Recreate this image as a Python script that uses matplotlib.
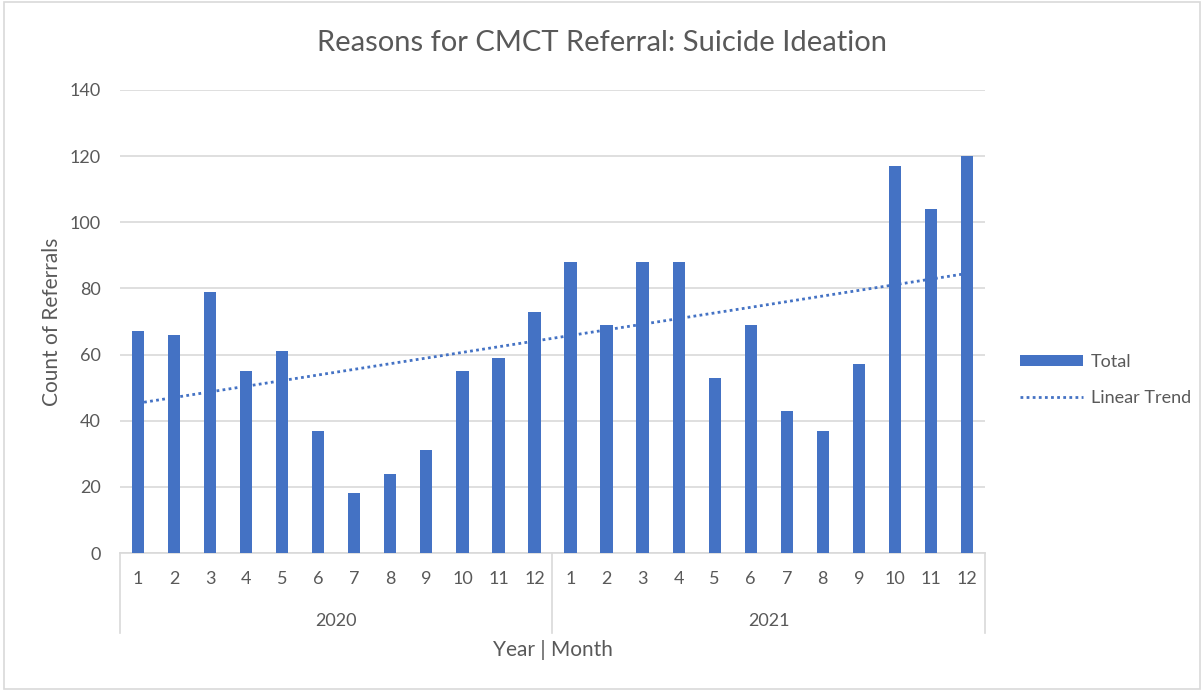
import numpy as np
import matplotlib.pyplot as plt
from matplotlib.patches import Rectangle
from matplotlib.lines import Line2D
from matplotlib.patches import Patch
import matplotlib.transforms as mtransforms

plt.rcParams['font.family'] = ['Lato', 'DejaVu Sans']

years = ["2020", "2021"]
months = [str(m) for m in range(1, 13)]
values_2020 = [67, 66, 79, 55, 61, 37, 18, 24, 31, 55, 59, 73]
values_2021 = [88, 69, 88, 88, 53, 69, 43, 37, 57, 117, 104, 120]

values = np.array(values_2020 + values_2021, dtype=float)
labels = months + months
x = np.arange(len(values))

TXT = '#595959'
BAR = '#4472C4'
GRID = '#d9d9d9'

fig = plt.figure(figsize=(12.04, 6.91), dpi=100)
ax = fig.add_axes([120/1204, 1-553/691, (985-120)/1204, (553-90)/691])

ax.bar(x, values, width=0.34, color=BAR, zorder=3)
coef = np.polyfit(x, values, 1)
trend = np.polyval(coef, x)
ax.plot(x, trend, color=BAR, linestyle=(0, (1, 1.2)), linewidth=2, zorder=4)

ax.set_xlim(-0.5, len(values) - 0.5)
ax.set_ylim(0, 140)
ax.set_yticks(range(0, 141, 20))
ax.yaxis.grid(True, color=GRID, linewidth=1.2, zorder=0)
ax.set_axisbelow(True)
for s in ['top', 'right', 'left']:
    ax.spines[s].set_visible(False)
ax.spines['bottom'].set_color(GRID)
ax.spines['bottom'].set_linewidth(1.2)
ax.tick_params(axis='both', length=0, colors=TXT, labelsize=13)
ax.tick_params(axis='y', pad=14)
ax.tick_params(axis='x', pad=13)
ax.set_xticks(x)
ax.set_xticklabels(labels)

# multi-level category axis
trans = mtransforms.blended_transform_factory(ax.transData, ax.transAxes)
depth = 80 / 463
for xs in [-0.5, 11.5, 23.5]:
    ax.add_line(Line2D([xs, xs], [0, -depth], transform=trans, color=GRID,
                       linewidth=1.2, clip_on=False))
for i, y in enumerate(years):
    ax.text(5.5 + 12 * i, -68 / 463, y, transform=trans, ha='center', va='center',
            color=TXT, fontsize=13)

ax.set_xlabel('Year | Month', color=TXT, fontsize=15, labelpad=38)
ax.set_ylabel('Count of Referrals', color=TXT, fontsize=15, labelpad=5)

fig.suptitle('Reasons for CMCT Referral: Suicide Ideation', color=TXT,
             fontsize=21, y=1-43/691, va='center')

handles = [Patch(facecolor=BAR, edgecolor='none'),
           Line2D([], [], color=BAR, linestyle=(0, (1, 1.2)), linewidth=2)]
fig.legend(handles, ['Total', 'Linear Trend'], loc='center left',
           bbox_to_anchor=(1004/1204, 1-380/691), frameon=False,
           fontsize=13, labelcolor=TXT, handlelength=3.5, labelspacing=1.1,
           handleheight=0.55, handletextpad=0.4)

fig.add_artist(Rectangle((0.003, 0.003), 0.994, 0.994, transform=fig.transFigure,
                         fill=False, edgecolor=GRID, linewidth=1.2))

fig.savefig('out.png', dpi=100)
